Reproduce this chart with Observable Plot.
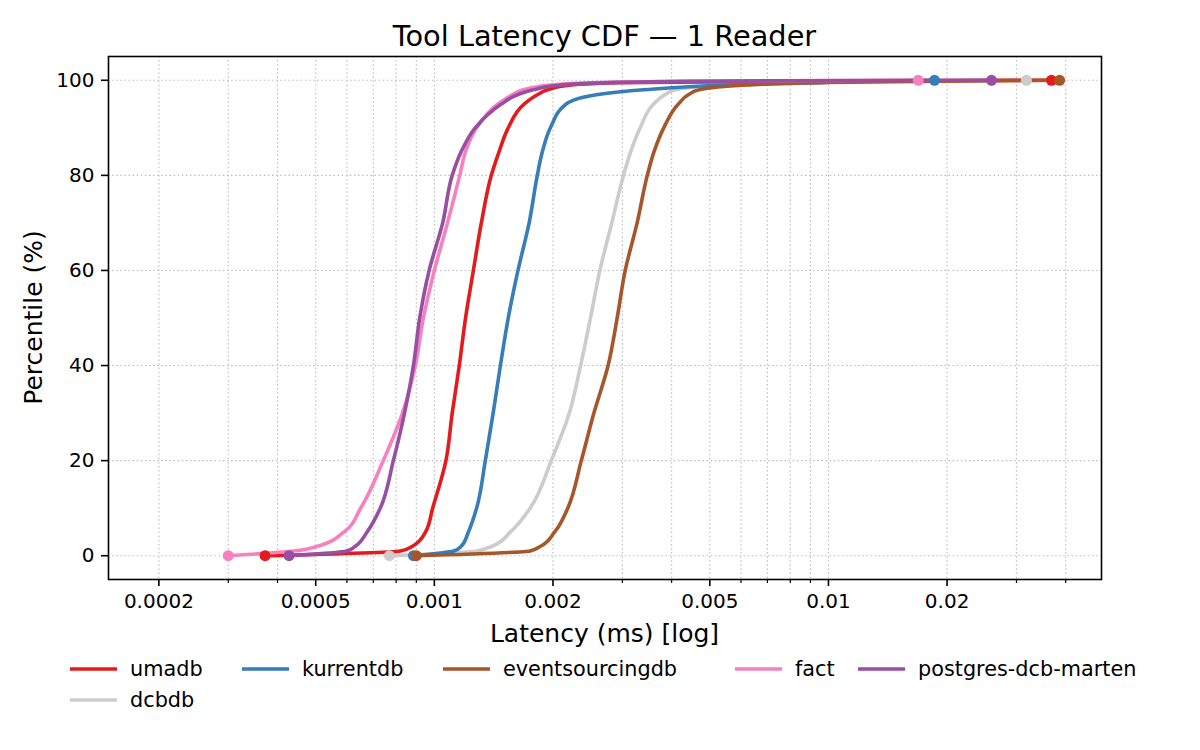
<!DOCTYPE html>
<html>
<head>
<meta charset="utf-8">
<script src="https://cdn.jsdelivr.net/npm/d3@7"></script>
<script src="https://cdn.jsdelivr.net/npm/@observablehq/plot@0.6"></script>
<style>
  body { margin: 0; background: #fff; }
  #wrap { position: relative; width: 1200px; height: 750px; overflow: hidden; }
  #chart, #overlay { position: absolute; left: 0; top: 0; }
  #overlay { pointer-events: none; }
  text { font-family: "DejaVu Sans", sans-serif; }
</style>
</head>
<body>
<div id="wrap"><div id="chart"></div><svg id="overlay" width="1200" height="750"></svg></div>
<script>
// ---- data (latency in ms at each percentile) ----
const percentiles = [0, 1, 2, 5, 10, 20, 30, 40, 50, 60, 70, 80, 85, 90, 95, 97, 98, 99, 99.5, 99.9, 100];
const umadb = [0.000372, 0.00082, 0.00088, 0.00095, 0.00099, 0.00107, 0.00111, 0.001157, 0.0012, 0.001256, 0.001316, 0.001395, 0.00146, 0.00154, 0.00169, 0.00183, 0.00194, 0.00222, 0.0029, 0.012, 0.0368];
const kurrentdb = [0.000885, 0.00112, 0.00117, 0.00122, 0.00128, 0.001347, 0.00141, 0.001471, 0.00154, 0.00163, 0.00174, 0.001825, 0.00188, 0.00197, 0.00216, 0.0026, 0.0034, 0.0055, 0.009, 0.015, 0.01858];
const eventsourcingdb = [0.0009, 0.00175, 0.00186, 0.00202, 0.00218, 0.00236, 0.00254, 0.00276, 0.00291, 0.00305, 0.00327, 0.00347, 0.00361, 0.00382, 0.00416, 0.00442, 0.0047, 0.0062, 0.0095, 0.025, 0.0386];
const fact = [0.0003, 0.00044, 0.000505, 0.00059, 0.00065, 0.000742, 0.00083, 0.000895, 0.000938, 0.001, 0.00108, 0.00116, 0.0012, 0.00128, 0.00145, 0.00158, 0.00168, 0.00197, 0.0026, 0.006, 0.0169];
const postgresDcbMarten = [0.000428, 0.0006, 0.00063, 0.000675, 0.000729, 0.000787, 0.00084, 0.000885, 0.000918, 0.00097, 0.00105, 0.00111, 0.00117, 0.00127, 0.00148, 0.00163, 0.00178, 0.0021, 0.0028, 0.008, 0.02593];
const dcbdb = [0.000769, 0.00128, 0.0014, 0.00156, 0.00175, 0.00198, 0.0022, 0.00235, 0.00249, 0.00263, 0.00282, 0.00302, 0.00315, 0.00333, 0.0036, 0.00385, 0.0041, 0.0055, 0.009, 0.02, 0.0318];

const seriesNames = ["umadb", "kurrentdb", "eventsourcingdb", "fact", "postgres-dcb-marten", "dcbdb"];
const seriesValues = [umadb, kurrentdb, eventsourcingdb, fact, postgresDcbMarten, dcbdb];
const seriesColors = ["#e41a1c", "#377eb8", "#a65628", "#f781bf", "#984ea3", "#cccccc"];
const drawOrder = ["dcbdb", "umadb", "kurrentdb", "eventsourcingdb", "fact", "postgres-dcb-marten"];

const xTickLabels = [0.0002, 0.0005, 0.001, 0.002, 0.005, 0.01, 0.02];
const xGridTicks = [0.0002, 0.0003, 0.0004, 0.0005, 0.0006, 0.0007, 0.0008, 0.0009,
                    0.001, 0.002, 0.003, 0.004, 0.005, 0.006, 0.007, 0.008, 0.009,
                    0.01, 0.02, 0.03, 0.04];
const yTicks = [0, 20, 40, 60, 80, 100];

const titleText = "Tool Latency CDF — 1 Reader";
const xLabelText = "Latency (ms) [log]";
const yLabelText = "Percentile (%)";

// ---- build table ----
const rows = [];
for (const name of drawOrder) {
  const vals = seriesValues[seriesNames.indexOf(name)];
  vals.forEach((v, i) => rows.push({series: name, latency: v, pct: percentiles[i]}));
}
const ends = [];
for (const name of drawOrder) {
  const vals = seriesValues[seriesNames.indexOf(name)];
  ends.push({series: name, latency: vals[0], pct: percentiles[0]});
  ends.push({series: name, latency: vals[vals.length - 1], pct: percentiles[percentiles.length - 1]});
}
const minorTicks = xGridTicks.filter(t => !xTickLabels.includes(t));

const gridStyle = {stroke: "#bdbdbd", strokeDasharray: "1.5,2.6", strokeWidth: 1.15};

const chart = Plot.plot({
  width: 1200,
  height: 750,
  marginLeft: 108,
  marginRight: 99,
  marginTop: 56,
  marginBottom: 171,
  style: {fontFamily: "DejaVu Sans, sans-serif", fontSize: "20px", color: "#000", background: "transparent"},
  x: {type: "log", domain: [0.000149, 0.0493]},
  y: {domain: [-5, 105]},
  color: {domain: seriesNames, range: seriesColors},
  marks: [
    Plot.ruleX(xGridTicks, gridStyle),
    Plot.ruleY(yTicks, gridStyle),
    Plot.line(rows, {x: "latency", y: "pct", z: "series", stroke: "series", curve: "monotone-y", strokeWidth: 3.6, strokeLinejoin: "round", strokeLinecap: "round"}),
    Plot.dot(ends, {x: "latency", y: "pct", fill: "series", r: 5.5, stroke: "none"}),
    Plot.frame({stroke: "#000", strokeWidth: 1.6}),
    Plot.axisX({ticks: xTickLabels, tickSize: 7, tickFormat: () => "", strokeWidth: 1.6, label: null}),
    Plot.axisX({ticks: minorTicks, tickSize: 4, tickFormat: () => "", strokeWidth: 1.2, label: null}),
    Plot.text(xTickLabels, {x: d => d, frameAnchor: "bottom", lineAnchor: "top", dy: 14, text: d => String(d), fontSize: 20, fill: "#000"}),
    Plot.axisY({ticks: yTicks, tickSize: 7, tickPadding: 7, tickFormat: d => String(d), strokeWidth: 1.6, label: null, fontSize: 20})
  ]
});
document.getElementById("chart").appendChild(chart);

// ---- title, axis labels, legend ----
const ov = d3.select("#overlay");
ov.append("text").attr("x", 604.5).attr("y", 45.5).attr("text-anchor", "middle")
  .attr("font-size", 28.8).attr("fill", "#000").text(titleText);
ov.append("text").attr("x", 604.5).attr("y", 642).attr("text-anchor", "middle")
  .attr("font-size", 25).attr("fill", "#000").text(xLabelText);
ov.append("text").attr("transform", "translate(42,317.5) rotate(-90)").attr("text-anchor", "middle")
  .attr("font-size", 25).attr("fill", "#000").text(yLabelText);

const legendX = [70, 242, 443, 735, 858, 70];
const legendRow = [0, 0, 0, 0, 0, 1];
seriesNames.forEach((name, i) => {
  const cy = 669 + legendRow[i] * 31;
  const g = ov.append("g");
  g.append("line").attr("x1", legendX[i]).attr("x2", legendX[i] + 47).attr("y1", cy).attr("y2", cy)
    .attr("stroke", seriesColors[i]).attr("stroke-width", 3.6);
  g.append("text").attr("x", legendX[i] + 60).attr("y", cy + 7.3).attr("font-size", 20.8)
    .attr("fill", "#000").text(name);
});
</script>
</body>
</html>
